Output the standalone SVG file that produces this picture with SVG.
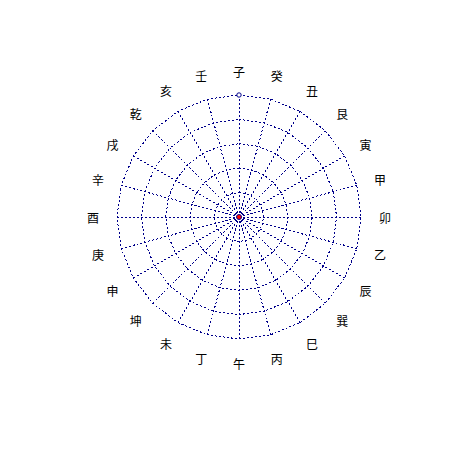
<svg xmlns="http://www.w3.org/2000/svg" width="450" height="450" viewBox="0 0 450 450">
<style>
.grid{fill:none;stroke:#00008b;stroke-width:1;stroke-dasharray:2,2;shape-rendering:crispEdges}
.lbl{font-family:"Noto Sans CJK JP","Noto Sans CJK SC",sans-serif;font-size:12px;fill:#000;text-anchor:middle;dominant-baseline:central}
</style>
<rect width="450" height="450" fill="#fff"/>
<g id="connectors" transform="translate(239,217)">
<g id="rings" class="grid">
<polygon points="0,-122 31.58,-117.84 61,-105.66 86.27,-86.27 105.66,-61 117.84,-31.58 122,0 117.84,31.58 105.66,61 86.27,86.27 61,105.66 31.58,117.84 0,122 -31.58,117.84 -61,105.66 -86.27,86.27 -105.66,61 -117.84,31.58 -122,0 -117.84,-31.58 -105.66,-61 -86.27,-86.27 -61,-105.66 -31.58,-117.84"/>
<polygon points="0,-97.6 25.26,-94.27 48.8,-84.52 69.01,-69.01 84.52,-48.8 94.27,-25.26 97.6,0 94.27,25.26 84.52,48.8 69.01,69.01 48.8,84.52 25.26,94.27 0,97.6 -25.26,94.27 -48.8,84.52 -69.01,69.01 -84.52,48.8 -94.27,25.26 -97.6,0 -94.27,-25.26 -84.52,-48.8 -69.01,-69.01 -48.8,-84.52 -25.26,-94.27"/>
<polygon points="0,-73.2 18.95,-70.71 36.6,-63.39 51.76,-51.76 63.39,-36.6 70.71,-18.95 73.2,0 70.71,18.95 63.39,36.6 51.76,51.76 36.6,63.39 18.95,70.71 0,73.2 -18.95,70.71 -36.6,63.39 -51.76,51.76 -63.39,36.6 -70.71,18.95 -73.2,0 -70.71,-18.95 -63.39,-36.6 -51.76,-51.76 -36.6,-63.39 -18.95,-70.71"/>
<polygon points="0,-48.8 12.63,-47.14 24.4,-42.26 34.51,-34.51 42.26,-24.4 47.14,-12.63 48.8,0 47.14,12.63 42.26,24.4 34.51,34.51 24.4,42.26 12.63,47.14 0,48.8 -12.63,47.14 -24.4,42.26 -34.51,34.51 -42.26,24.4 -47.14,12.63 -48.8,0 -47.14,-12.63 -42.26,-24.4 -34.51,-34.51 -24.4,-42.26 -12.63,-47.14"/>
<polygon points="0,-24.4 6.32,-23.57 12.2,-21.13 17.25,-17.25 21.13,-12.2 23.57,-6.32 24.4,0 23.57,6.32 21.13,12.2 17.25,17.25 12.2,21.13 6.32,23.57 0,24.4 -6.32,23.57 -12.2,21.13 -17.25,17.25 -21.13,12.2 -23.57,6.32 -24.4,0 -23.57,-6.32 -21.13,-12.2 -17.25,-17.25 -12.2,-21.13 -6.32,-23.57"/>
</g>
<path id="radials" class="grid" d="M0,0L0,-122M0,0L31.58,-117.84M0,0L61,-105.66M0,0L86.27,-86.27M0,0L105.66,-61M0,0L117.84,-31.58M0,0L122,0M0,0L117.84,31.58M0,0L105.66,61M0,0L86.27,86.27M0,0L61,105.66M0,0L31.58,117.84M0,0L0,122M0,0L-31.58,117.84M0,0L-61,105.66M0,0L-86.27,86.27M0,0L-105.66,61M0,0L-117.84,31.58M0,0L-122,0M0,0L-117.84,-31.58M0,0L-105.66,-61M0,0L-86.27,-86.27M0,0L-61,-105.66M0,0L-31.58,-117.84"/>
<circle id="center" cx="0" cy="0" r="2.5" fill="#ff0000" stroke="#00008b" stroke-width="1"/>
<circle id="north-marker" cx="0" cy="-122" r="2.2" fill="#fff" stroke="#00008b" stroke-width="1"/>
</g>
<g id="labels" class="lbl" transform="translate(239,217)">
<g id="n0"><text x="0" y="-146">子</text></g>
<g id="n1"><text x="37.79" y="-141.03">癸</text></g>
<g id="n2"><text x="73" y="-126.44">丑</text></g>
<g id="n3"><text x="103.24" y="-103.24">艮</text></g>
<g id="n4"><text x="126.44" y="-73">寅</text></g>
<g id="n5"><text x="141.03" y="-37.79">甲</text></g>
<g id="n6"><text x="146" y="0">卯</text></g>
<g id="n7"><text x="141.03" y="37.79">乙</text></g>
<g id="n8"><text x="126.44" y="73">辰</text></g>
<g id="n9"><text x="103.24" y="103.24">巽</text></g>
<g id="n10"><text x="73" y="126.44">巳</text></g>
<g id="n11"><text x="37.79" y="141.03">丙</text></g>
<g id="n12"><text x="0" y="146">午</text></g>
<g id="n13"><text x="-37.79" y="141.03">丁</text></g>
<g id="n14"><text x="-73" y="126.44">未</text></g>
<g id="n15"><text x="-103.24" y="103.24">坤</text></g>
<g id="n16"><text x="-126.44" y="73">申</text></g>
<g id="n17"><text x="-141.03" y="37.79">庚</text></g>
<g id="n18"><text x="-146" y="0">酉</text></g>
<g id="n19"><text x="-141.03" y="-37.79">辛</text></g>
<g id="n20"><text x="-126.44" y="-73">戌</text></g>
<g id="n21"><text x="-103.24" y="-103.24">乾</text></g>
<g id="n22"><text x="-73" y="-126.44">亥</text></g>
<g id="n23"><text x="-37.79" y="-141.03">壬</text></g>
</g>
</svg>
